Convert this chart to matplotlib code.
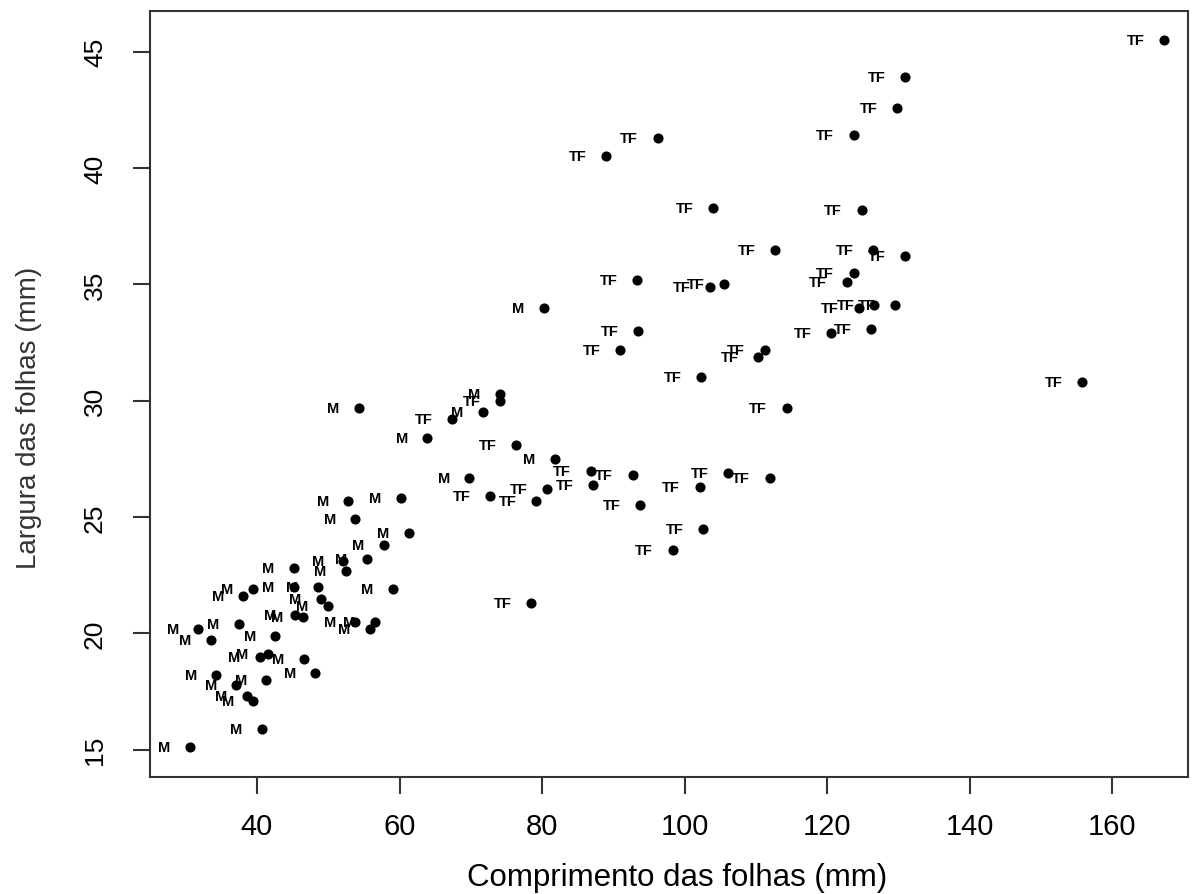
import matplotlib
matplotlib.use('Agg')
import matplotlib.pyplot as plt

plt.rcParams['font.family'] = ['Liberation Sans', 'DejaVu Sans']

# folhas do grupo M
m_comprimento = [30.6, 40.7, 38.6, 39.5, 37.1, 34.3, 41.3, 48.2, 46.6, 40.4,
                 41.5, 33.5, 42.6, 31.8, 37.5, 55.8, 53.8, 56.5, 45.4, 46.4,
                 49.0, 49.9, 38.1, 39.4, 45.2, 48.5, 59.1, 45.2, 52.1, 52.5,
                 55.4, 57.8, 61.3, 53.8, 52.8, 60.2, 69.8, 81.8, 63.9, 54.3,
                 71.7, 74.1, 80.2]
m_largura = [15.1, 15.9, 17.3, 17.1, 17.8, 18.2, 18.0, 18.3, 18.9, 19.0,
             19.1, 19.7, 19.9, 20.2, 20.4, 20.2, 20.5, 20.5, 20.8, 20.7,
             21.5, 21.2, 21.6, 21.9, 22.0, 22.0, 21.9, 22.8, 23.1, 22.7,
             23.2, 23.8, 24.3, 24.9, 25.7, 25.8, 26.7, 27.5, 28.4, 29.7,
             29.5, 30.3, 34.0]

# folhas do grupo TF
tf_comprimento = [67.4, 74.1, 76.4, 86.8, 87.1, 92.7, 80.7, 79.1, 72.7, 93.8,
                  102.1, 106.1, 111.9, 102.6, 98.3, 78.4, 96.2, 89.0, 104.0, 112.7,
                  93.3, 103.6, 105.5, 93.5, 90.9, 111.2, 110.3, 102.3, 114.3, 167.2,
                  130.9, 129.8, 123.7, 124.8, 126.4, 130.9, 123.7, 122.7, 124.4, 126.6,
                  129.5, 126.1, 120.5, 155.7]
tf_largura = [29.2, 30.0, 28.1, 27.0, 26.4, 26.8, 26.2, 25.7, 25.9, 25.5,
              26.3, 26.9, 26.7, 24.5, 23.6, 21.3, 41.3, 40.5, 38.3, 36.5,
              35.2, 34.9, 35.0, 33.0, 32.2, 32.2, 31.9, 31.0, 29.7, 45.5,
              43.9, 42.6, 41.4, 38.2, 36.5, 36.2, 35.5, 35.1, 34.0, 34.1,
              34.1, 33.1, 32.9, 30.8]

x_ticks = [40, 60, 80, 100, 120, 140, 160]
y_ticks = [15, 20, 25, 30, 35, 40, 45]

fig = plt.figure(figsize=(12.01, 8.95), dpi=100)
ax = fig.add_axes([0.1249, 0.1307, 0.8643, 0.8559])

x_all = m_comprimento + tf_comprimento
y_all = m_largura + tf_largura
labels = ['M'] * len(m_comprimento) + ['TF'] * len(tf_comprimento)

ax.plot(x_all, y_all, 'o', color='black', ms=7.3, mew=0)
for x, y, lab in zip(x_all, y_all, labels):
    ax.annotate(lab, (x, y), xytext=(-14, 0), textcoords='offset points',
                ha='right', va='center', fontsize=10.5, fontweight='bold')

ax.set_xlim(25.0, 170.6)
ax.set_ylim(13.83, 46.75)
ax.set_xticks(x_ticks)
ax.set_yticks(y_ticks)
ax.set_yticklabels([str(v) for v in y_ticks], rotation=90, va='center')

for s in ax.spines.values():
    s.set_color('#333333')
    s.set_linewidth(1.5)
ax.tick_params(direction='out', length=12, width=1.5, color='#333333')
ax.tick_params(axis='x', labelsize=21, pad=13)
ax.tick_params(axis='y', labelsize=19, pad=19)

ax.set_xlabel('Comprimento das folhas (mm)', fontsize=22.5)
ax.xaxis.set_label_coords(0.508, -0.111)
ax.set_ylabel('Largura das folhas (mm)', fontsize=20, color='#333333')
ax.yaxis.set_label_coords(-0.104, 0.47)

fig.savefig('out.png', dpi=100)
